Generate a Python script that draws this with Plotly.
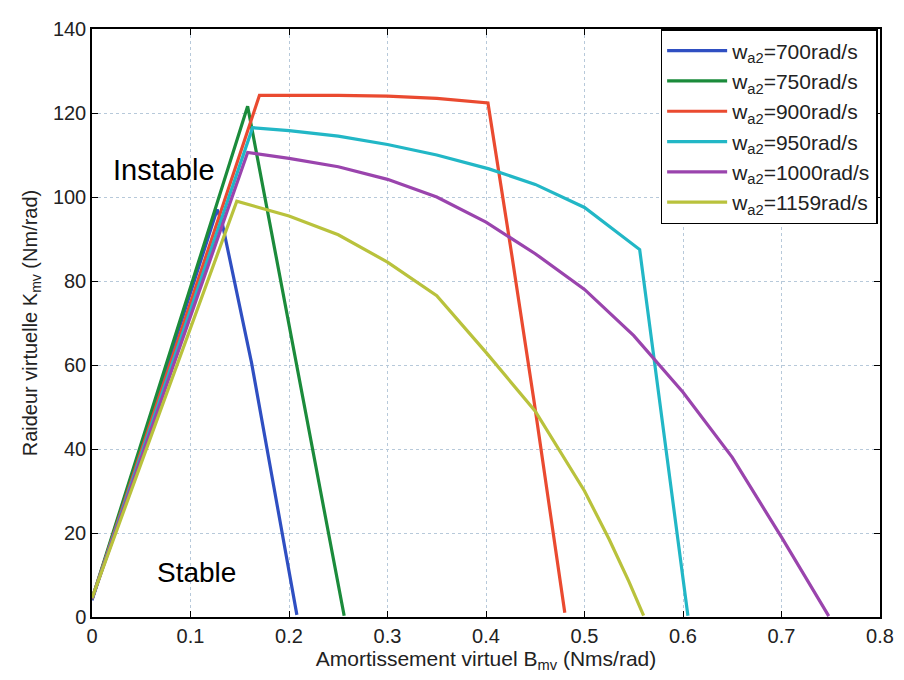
import plotly.graph_objects as go

# Data
labels = ["700", "750", "900", "950", "1000", "1159"]
colors = ["#2f4fc2", "#1b8b3b", "#ea4a30", "#22b7c6", "#9a44ad", "#b9c23c"]

b_700 = [0.0, 0.127, 0.132, 0.162, 0.208]
k_700 = [4.0, 97.0, 94.0, 60.5, 0.5]

b_750 = [0.0, 0.158, 0.256]
k_750 = [4.2, 121.6, 0.3]

b_900 = [0.0, 0.170, 0.25, 0.30, 0.35, 0.402, 0.426, 0.449, 0.480]
k_900 = [4.3, 124.2, 124.2, 124.0, 123.5, 122.4, 86.5, 51.0, 1.0]

b_950 = [0.0, 0.163, 0.20, 0.25, 0.30, 0.35, 0.403, 0.45, 0.50, 0.556, 0.605]
k_950 = [4.3, 116.5, 115.8, 114.5, 112.5, 110.0, 106.7, 103.0, 97.5, 87.5, 0.3]

b_1000 = [0.0, 0.158, 0.20, 0.25, 0.30, 0.35, 0.40, 0.45, 0.50, 0.55, 0.60, 0.65, 0.70, 0.748]
k_1000 = [4.3, 110.6, 109.2, 107.2, 104.2, 100.0, 94.0, 86.5, 78.0, 67.0, 53.5, 38.0, 19.0, 0.2]

b_1159 = [0.0, 0.147, 0.20, 0.25, 0.30, 0.35, 0.40, 0.45, 0.50, 0.525, 0.545, 0.560]
k_1159 = [4.5, 99.0, 95.5, 91.0, 84.5, 76.5, 63.0, 49.0, 30.0, 18.5, 8.5, 0.3]

series = [(b_700, k_700), (b_750, k_750), (b_900, k_900),
          (b_950, k_950), (b_1000, k_1000), (b_1159, k_1159)]

x_ticks = [0, 0.1, 0.2, 0.3, 0.4, 0.5, 0.6, 0.7, 0.8]
x_tick_text = ["0", "0.1", "0.2", "0.3", "0.4", "0.5", "0.6", "0.7", "0.8"]
y_ticks = [0, 20, 40, 60, 80, 100, 120, 140]

FONT = "Liberation Sans, Arial, sans-serif"

fig = go.Figure()
for (bx, ky), lab, col in zip(series, labels, colors):
    fig.add_trace(go.Scatter(
        x=bx, y=ky, mode="lines",
        name="w<sub>a2</sub>=" + lab + "rad/s",
        line=dict(color=col, width=3.2),
    ))

fig.add_annotation(x=0.073, y=106.5, text="Instable", showarrow=False,
                   font=dict(family=FONT, size=29, color="black"))
fig.add_annotation(x=0.106, y=10.5, text="Stable", showarrow=False,
                   font=dict(family=FONT, size=28, color="black"))

axis_common = dict(
    showline=True, linecolor="black", linewidth=1.5, mirror="ticks",
    ticks="inside", ticklen=6, tickcolor="black", tickwidth=1.2,
    showgrid=True, gridcolor="#b7c9da", griddash="dot", gridwidth=1,
    zeroline=False,
    tickfont=dict(family=FONT, size=20, color="#222"),
)

fig.update_xaxes(range=[0, 0.8], tickvals=x_ticks, ticktext=x_tick_text,
                 title=dict(text="Amortissement virtuel B<sub>mv</sub> (Nms/rad)",
                            font=dict(family=FONT, size=21, color="#222"), standoff=2),
                 **axis_common)
fig.update_yaxes(range=[0, 140], tickvals=y_ticks,
                 title=dict(text="Raideur virtuelle K<sub>mv</sub> (Nm/rad)",
                            font=dict(family=FONT, size=20, color="#222"), standoff=10),
                 **axis_common)

fig.update_layout(
    width=896, height=672,
    margin=dict(l=84, r=24, t=10, b=63),
    paper_bgcolor="white", plot_bgcolor="white",
    font=dict(family=FONT, color="#222"),
    legend=dict(x=0.997, y=1.0, xanchor="right", yanchor="top",
                bgcolor="white", bordercolor="black", borderwidth=1.5,
                font=dict(family=FONT, size=21, color="#222"),
                tracegroupgap=0, itemwidth=60),
    showlegend=True,
)

fig.write_html("out.html")
